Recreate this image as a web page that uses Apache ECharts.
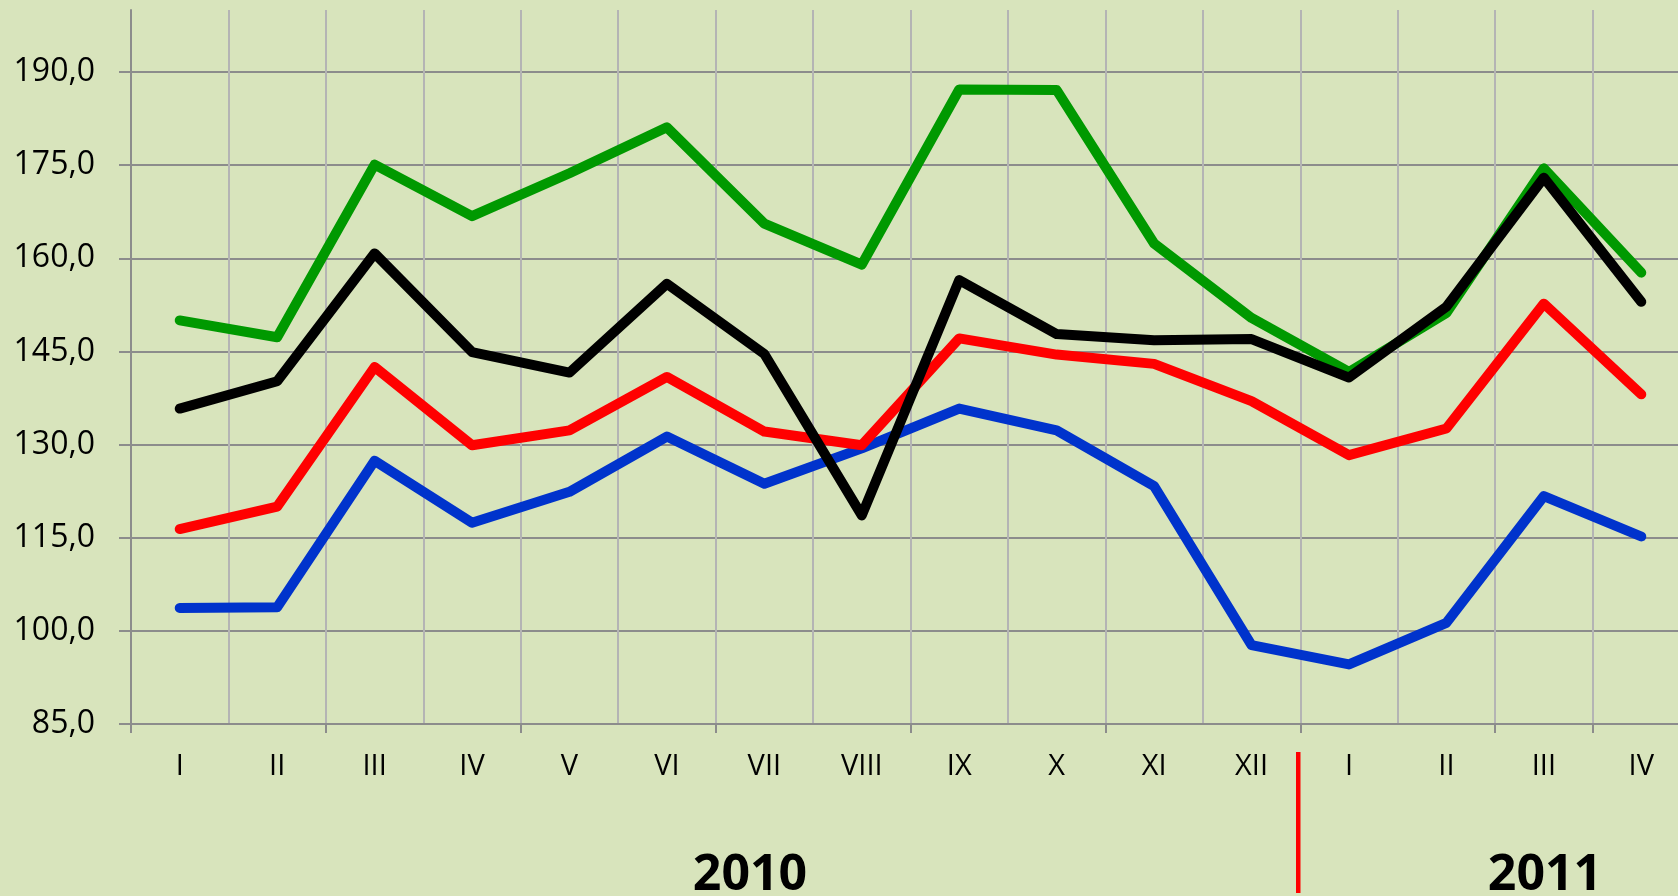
<!DOCTYPE html>
<html>
<head>
<meta charset="utf-8">
<title>2010-2011</title>
<script src="https://cdn.jsdelivr.net/npm/echarts@6/dist/echarts.min.js"></script>
<style>
  html, body { margin: 0; padding: 0; background: #d8e4bc; }
  #chart { width: 1678px; height: 896px; }
</style>
</head>
<body>
<div id="chart"></div>
<script>
// month labels, per year
const months2010 = ['I', 'II', 'III', 'IV', 'V', 'VI', 'VII', 'VIII', 'IX', 'X', 'XI', 'XII']
const months2011 = ['I', 'II', 'III', 'IV']
const years = ['2010', '2011']

// series values
const greenValues = [150.0, 147.3, 175.1, 166.8, 173.7, 181.1, 165.6, 159.0, 187.2, 187.1, 162.4, 150.4, 141.7, 151.2, 174.5, 157.7]
const blackValues = [135.8, 140.2, 160.8, 144.9, 141.6, 155.9, 144.6, 118.6, 156.5, 147.8, 146.8, 147.0, 140.8, 152.2, 173.0, 153.0]
const redValues = [116.4, 120.0, 142.5, 129.9, 132.3, 140.9, 132.1, 129.9, 147.1, 144.5, 143.0, 137.0, 128.3, 132.6, 152.7, 138.1]
const blueValues = [103.7, 103.8, 127.4, 117.4, 122.4, 131.3, 123.7, 129.4, 135.8, 132.3, 123.3, 97.7, 94.6, 101.3, 121.7, 115.2]

const categories = [
  ...months2010.map(m => years[0] + '-' + m),
  ...months2011.map(m => years[1] + '-' + m)
]

const chart = echarts.init(document.getElementById('chart'))

const lineSeries = (name, color, data) => ({
  name: name,
  type: 'line',
  symbol: 'none',
  lineStyle: { color: color, width: 10, cap: 'round', join: 'round' },
  data: data
})

const option = {
  backgroundColor: '#d8e4bc',
  animation: false,
  // plot runs past the right edge of the page, like the original
  grid: { left: 131, top: 10, right: -12, bottom: 172, outerBoundsMode: 'none' },
  xAxis: {
    type: 'category',
    data: categories,
    boundaryGap: true,
    axisLine: { lineStyle: { color: '#8c8c8c', width: 2 } },
    axisTick: { show: true, interval: 1, length: 9, lineStyle: { color: '#8c8c8c', width: 2 } },
    axisLabel: {
      interval: 0,
      margin: 28,
      color: '#000',
      fontFamily: 'Open Sans',
      fontSize: 29,
      formatter: v => v.split('-')[1]
    },
    splitLine: { show: true, interval: 0, lineStyle: { color: '#b4b4b4', width: 2 } }
  },
  yAxis: {
    type: 'value',
    min: 85,
    max: 200,
    interval: 15,
    axisLine: { show: true, lineStyle: { color: '#8c8c8c', width: 2 } },
    axisTick: { show: true, length: 12, lineStyle: { color: '#8c8c8c', width: 2 } },
    axisLabel: {
      showMaxLabel: false,
      margin: 36,
      color: '#000',
      fontFamily: 'Open Sans',
      fontSize: 32,
      formatter: v => v.toFixed(1).replace('.', ',')
    },
    splitLine: { show: true, showMaxLine: false, lineStyle: { color: '#8c8c8c', width: 2 } }
  },
  series: [
    lineSeries('blue', '#0033cc', blueValues),
    lineSeries('red', '#ff0000', redValues),
    lineSeries('green', '#009900', greenValues),
    lineSeries('black', '#000000', blackValues)
  ]
}

chart.setOption(option)

// year separator and year labels under the axis
const c0 = chart.convertToPixel({ xAxisIndex: 0 }, categories[0])
const c1 = chart.convertToPixel({ xAxisIndex: 0 }, categories[1])
const step = c1 - c0
const sepX = chart.convertToPixel({ xAxisIndex: 0 }, categories[months2010.length - 1]) + step / 2

chart.setOption({
  graphic: [
    {
      type: 'line',
      shape: { x1: sepX - 2, y1: 752, x2: sepX - 2, y2: 893 },
      style: { stroke: '#ff0000', lineWidth: 4.5 }
    },
    {
      type: 'text',
      x: 750, y: 876,
      style: { text: years[0], fontFamily: 'Open Sans', fontWeight: 'bold', fontSize: 50, fill: '#000', align: 'center', verticalAlign: 'middle' }
    },
    {
      type: 'text',
      x: 1545, y: 876,
      style: { text: years[1], fontFamily: 'Open Sans', fontWeight: 'bold', fontSize: 50, fill: '#000', align: 'center', verticalAlign: 'middle' }
    }
  ]
})

window.addEventListener('resize', () => chart.resize())
</script>
</body>
</html>
